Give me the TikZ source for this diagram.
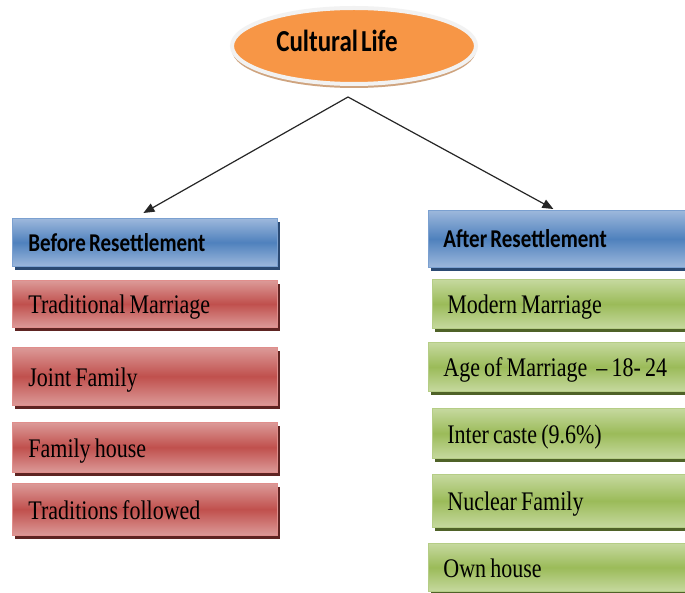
\documentclass[tikz,border=0pt]{standalone}
\usepackage{fontspec}
\usepackage{graphicx}
\setmainfont{Liberation Serif}
\newfontfamily\hdfont{Carlito}
\usetikzlibrary{shapes.geometric,shadows,arrows.meta}
\definecolor{blueL}{HTML}{9DB8DC}
\definecolor{blueM}{HTML}{4F81BD}
\definecolor{blueE}{HTML}{7BA0D0}
\definecolor{blueS}{HTML}{2B4A73}
\definecolor{redL}{HTML}{DC9A98}
\definecolor{redM}{HTML}{C0504D}
\definecolor{redE}{HTML}{E08E8C}
\definecolor{redS}{HTML}{5E2422}
\definecolor{grnL}{HTML}{C6D99F}
\definecolor{grnM}{HTML}{9BBB59}
\definecolor{grnE}{HTML}{B5CD86}
\definecolor{grnS}{HTML}{4F6228}
\definecolor{ellF}{HTML}{F79646}
\definecolor{ellR}{HTML}{F2F2F2}
\definecolor{ellS}{HTML}{CFA47F}
\newcommand{\vstretch}[2][0.19em]{\scalebox{1}[1.22]{\spaceskip=#1\relax #2}}
\begin{document}
\begin{tikzpicture}[x=1pt,y=-1pt,
  box/.style={rectangle, inner ysep=0pt, anchor=north west, align=left,
    text height=20pt, text depth=0pt, line width=0.8pt,
    font=\fontsize{22}{26}\selectfont},
  lcol/.style={inner xsep=16pt, text width=233pt},
  rcol/.style={inner xsep=15pt, text width=#1},
  bluebox/.style={box, top color=blueL, bottom color=blueL, middle color=blueM,
    draw=blueE, text height=18pt,
    drop shadow={shadow xshift=3pt, shadow yshift=-4pt, fill=blueS, opacity=1},
    font=\hdfont\bfseries\fontsize{21}{25}\selectfont},
  redbox/.style={box, top color=redL, bottom color=redL, middle color=redM,
    draw=redE,
    drop shadow={shadow xshift=3pt, shadow yshift=-4pt, fill=redS, opacity=1}},
  grnbox/.style={box, top color=grnL, bottom color=grnL, middle color=grnM,
    draw=grnE,
    drop shadow={shadow xshift=3pt, shadow yshift=-4pt, fill=grnS, opacity=1}},
  conn/.style={draw=black!85, line width=1.2pt, -{Triangle[length=11pt,width=9pt]}}
]
\clip (0,0) rectangle (685,593);
\fill[white] (0,0) rectangle (685,593);

% title ellipse
\node (ell) [ellipse, minimum width=244pt, minimum height=76pt, fill=ellF,
  draw=ellR, line width=4pt,
  drop shadow={shadow xshift=0pt, shadow yshift=-4pt, fill=ellS, opacity=1}]
  at (354,46) {};
\node (title) [text height=20pt, text depth=0pt, inner sep=0pt,
  font=\hdfont\bfseries\fontsize{25}{30}\selectfont] at (337,42)
  {\vstretch[0.12em]{Cultural Life}};

% left column
\node (before) [bluebox, lcol, minimum height=48pt] at (12,218) {\vstretch[0.15em]{Before Resettlement}};
\node (l1) [redbox, lcol, minimum height=47pt] at (12,280) {\vstretch{Traditional Marriage}};
\node (l2) [redbox, lcol, minimum height=58pt] at (12,347) {\vstretch{Joint Family}};
\node (l3) [redbox, lcol, minimum height=50pt] at (12,422) {\vstretch{Family house}};
\node (l4) [redbox, lcol, minimum height=52pt] at (12,483) {\vstretch{Traditions followed}};

% right column
\node (after) [bluebox, rcol=242pt, minimum height=57pt] at (428,210) {\vstretch[0.15em]{After Resettlement}};
\node (r1) [grnbox, rcol=238pt, minimum height=49pt] at (432,279) {\vstretch{Modern Marriage}};
\node (r2) [grnbox, rcol=242pt, minimum height=49pt] at (428,342) {\vstretch{Age of Marriage\hspace{9pt}-- 18- 24}};
\node (r3) [grnbox, rcol=238pt, minimum height=50pt] at (432,408) {\vstretch{Inter caste (9.6\%)}};
\node (r4) [grnbox, rcol=238pt, minimum height=53pt] at (432,474) {\vstretch{Nuclear Family}};
\node (r5) [grnbox, rcol=242pt, minimum height=48pt] at (428,543) {\vstretch{Own house}};

% connectors
\coordinate (src) at (348,97);
\draw[conn] (src) -- ([xshift=-1.5pt,yshift=5pt]before.north);
\draw[conn] (src) -- ([xshift=-11pt,yshift=1pt]after.north);
\end{tikzpicture}
\end{document}
